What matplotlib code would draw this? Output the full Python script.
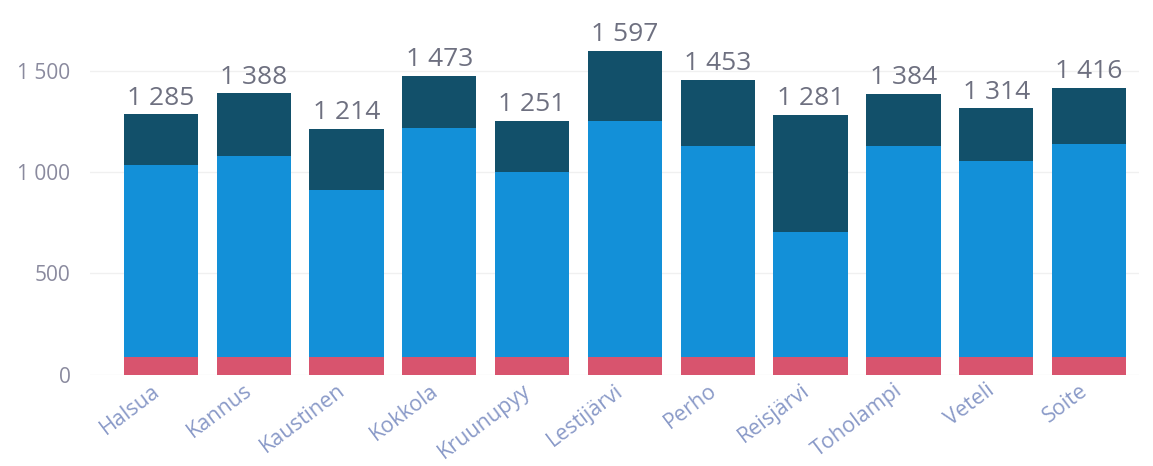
import matplotlib.pyplot as plt
import matplotlib.transforms as mtransforms
import numpy as np

kunnat = ["Halsua", "Kannus", "Kaustinen", "Kokkola", "Kruunupyy", "Lestijärvi",
          "Perho", "Reisjärvi", "Toholampi", "Veteli", "Soite"]
alin = [88, 88, 88, 88, 88, 88, 88, 88, 88, 88, 88]
keski = [945, 989, 822, 1127, 910, 1162, 1039, 615, 1039, 965, 1049]
ylin = [252, 311, 304, 258, 253, 347, 326, 578, 257, 261, 279]
yhteensa = [1285, 1388, 1214, 1473, 1251, 1597, 1453, 1281, 1384, 1314, 1416]

plt.rcParams['font.family'] = ['Open Sans', 'DejaVu Sans']

fig = plt.figure(figsize=(11.53, 4.66), dpi=100)
ax = fig.add_axes([0.078, 0.196, 0.91, 0.783])

x = np.arange(len(kunnat))
w = 0.8
ax.bar(x, alin, w, color='#D8546E', zorder=2)
ax.bar(x, keski, w, bottom=alin, color='#1390D8', zorder=2)
ax.bar(x, ylin, w, bottom=np.array(alin) + np.array(keski), color='#12506A', zorder=2)

for xi, t in zip(x, yhteensa):
    ax.text(xi, t + 18, f"{t:,}".replace(",", " "), ha='center', va='bottom',
            fontsize=19, color='#6E7080')

ax.set_ylim(0, 1800)
ax.set_xlim(-0.765, 10.54)
ax.set_yticks([0, 500, 1000, 1500])
ax.set_yticklabels(["0", "500", "1 000", "1 500"])
ax.yaxis.grid(True, color='#F0F0F0', linewidth=1, zorder=0)
ax.tick_params(axis='y', length=0, labelsize=15, labelcolor='#8A8A9E', pad=14)

ax.set_xticks(x)
ax.set_xticklabels(kunnat, rotation=37, ha='right', rotation_mode='anchor',
                   fontsize=15.5, color='#8A9AC8')
ax.tick_params(axis='x', length=0, pad=4)
siirto = mtransforms.ScaledTranslation(-10 / 100, 0, fig.dpi_scale_trans)
for lbl in ax.get_xticklabels():
    lbl.set_transform(lbl.get_transform() + siirto)

for s in ax.spines.values():
    s.set_visible(False)

fig.savefig("out.png", dpi=100)
